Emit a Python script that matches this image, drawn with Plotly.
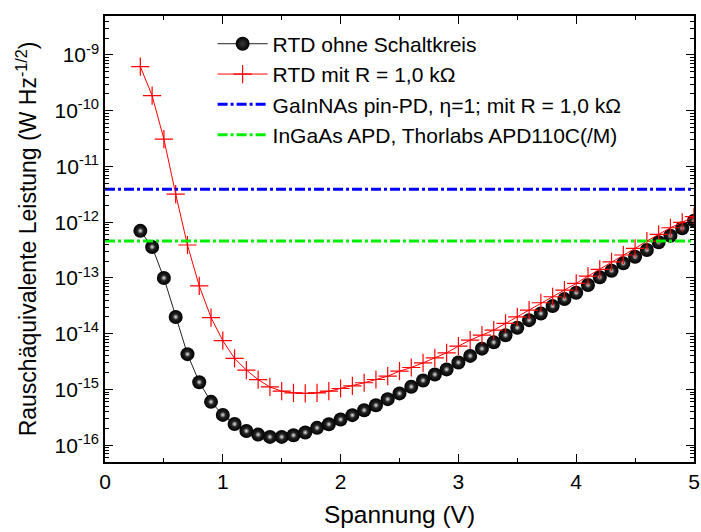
import math
import plotly.graph_objects as go

# Bias voltage (V)
voltage = [0.3, 0.4, 0.5, 0.6, 0.7, 0.8, 0.9, 1.0, 1.1, 1.2, 1.3, 1.4, 1.5, 1.6,
           1.7, 1.8, 1.9, 2.0, 2.1, 2.2, 2.3, 2.4, 2.5, 2.6, 2.7, 2.8, 2.9, 3.0,
           3.1, 3.2, 3.3, 3.4, 3.5, 3.6, 3.7, 3.8, 3.9, 4.0, 4.1, 4.2, 4.3, 4.4,
           4.5, 4.6, 4.7, 4.8, 4.9, 5.0]

# Noise equivalent power, RTD alone (W Hz^-1/2)
nep_rtd = [7.0e-13, 3.6e-13, 1.0e-13, 2.0e-14, 4.3e-15, 1.35e-15, 6.0e-16, 3.5e-16,
           2.4e-16, 1.8e-16, 1.55e-16, 1.41e-16, 1.41e-16, 1.51e-16, 1.69e-16, 2.05e-16,
           2.38e-16, 2.9e-16, 3.46e-16, 4.25e-16, 5.2e-16, 6.7e-16, 8.5e-16, 1.12e-15,
           1.45e-15, 1.86e-15, 2.29e-15, 3.05e-15, 4.0e-15, 5.4e-15, 7.0e-15, 9.4e-15,
           1.28e-14, 1.75e-14, 2.31e-14, 3.13e-14, 4.18e-14, 5.42e-14, 7.46e-14, 1.03e-13,
           1.35e-13, 1.83e-13, 2.4e-13, 3.17e-13, 4.36e-13, 5.72e-13, 7.78e-13, 1.06e-12]

# Noise equivalent power, RTD with R = 1.0 kOhm (W Hz^-1/2)
nep_rtd_r = [6.2e-10, 1.86e-10, 3.1e-11, 3.2e-12, 3.9e-13, 7.2e-14, 1.95e-14, 7.5e-15,
             3.6e-15, 2.23e-15, 1.5e-15, 1.11e-15, 9.3e-16, 8.7e-16, 8.5e-16, 8.7e-16,
             9.3e-16, 1.04e-15, 1.16e-15, 1.32e-15, 1.51e-15, 1.73e-15, 2.13e-15, 2.48e-15,
             3.0e-15, 3.7e-15, 4.54e-15, 5.99e-15, 7.67e-15, 9.44e-15, 1.16e-14, 1.53e-14,
             2.01e-14, 2.65e-14, 3.59e-14, 4.6e-14, 6.07e-14, 8.0e-14, 1.08e-13, 1.43e-13,
             1.95e-13, 2.58e-13, 3.4e-13, 4.59e-13, 6.06e-13, 7.96e-13, 9.95e-13, 1.26e-12]

# Reference detectors (constant NEP)
nep_pin_pd = 3.9e-12
nep_apd = 4.6e-13
ref_span = [0.0, 5.0]

# Axis settings
x_range = [0, 5]
y_min, y_max = 5e-17, 5e-9
decades = list(range(-16, -8))
y_tickvals = [10.0 ** k for k in decades]
y_ticktext = ["10<sup>%d</sup>" % k for k in decades]
y_minor = [m * 10.0 ** k for k in range(-17, -8) for m in range(2, 10)
           if y_min <= m * 10.0 ** k <= y_max]

FONT = "Arial, 'Liberation Sans', sans-serif"

fig = go.Figure()

fig.add_trace(go.Scatter(
    x=voltage, y=nep_rtd, mode="lines+markers",
    name="RTD ohne Schaltkreis",
    line=dict(color="#222222", width=1),
    marker=dict(size=14, color="#000000", line=dict(width=0),
                gradient=dict(type="radial", color="#3a3a3a")),
))
# glossy highlight on the spheres
fig.add_trace(go.Scatter(
    x=voltage, y=nep_rtd, mode="markers", showlegend=False, hoverinfo="skip",
    marker=dict(size=6, color="#202020", line=dict(width=0),
                gradient=dict(type="radial", color="#e8e8e8")),
))
fig.add_trace(go.Scatter(
    x=voltage, y=nep_rtd_r, mode="lines+markers",
    name="RTD mit R = 1,0 kΩ",
    line=dict(color="#ff0000", width=1),
    marker=dict(symbol="cross-thin", size=13, color="#ff0000",
                line=dict(width=1.2, color="#ff0000")),
))
fig.add_trace(go.Scatter(
    x=ref_span, y=[nep_pin_pd, nep_pin_pd], mode="lines",
    name="GaInNAs pin-PD, η=1; mit R = 1,0 kΩ",
    line=dict(color="#0000ff", width=3, dash="10px,3px,3px,3px"),
))
fig.add_trace(go.Scatter(
    x=ref_span, y=[nep_apd, nep_apd], mode="lines",
    name="InGaAs APD, Thorlabs APD110C(/M)",
    line=dict(color="#00ee00", width=3, dash="10px,3px,3px,3px"),
))

fig.update_layout(
    width=701, height=532,
    margin=dict(l=105, r=5, t=16, b=70),
    paper_bgcolor="white", plot_bgcolor="white",
    font=dict(family=FONT, size=20, color="black"),
    showlegend=True,
    legend=dict(
        x=0.1827, y=0.983, xanchor="left", yanchor="top",
        bgcolor="rgba(0,0,0,0)", borderwidth=0,
        font=dict(family=FONT, size=21, color="black"),
        itemwidth=50, tracegroupgap=0,
    ),
)

fig.update_xaxes(
    range=x_range, dtick=1, tick0=0, automargin=False,
    showline=True, linecolor="black", linewidth=1.5, mirror="ticks",
    ticks="inside", ticklen=8, tickwidth=1.2, tickcolor="black",
    minor=dict(dtick=0.5, tick0=0, ticks="inside", ticklen=4, tickwidth=1.2,
               tickcolor="black"),
    showgrid=False, zeroline=False,
    tickfont=dict(family=FONT, size=21),
    title=dict(text="Spannung (V)", font=dict(family=FONT, size=24.5), standoff=14),
)

fig.update_yaxes(
    type="log", range=[math.log10(y_min), math.log10(y_max)],
    tickmode="array", tickvals=y_tickvals, ticktext=y_ticktext,
    showline=True, linecolor="black", linewidth=1.5, mirror="ticks",
    ticks="inside", ticklen=8, tickwidth=1.2, tickcolor="black",
    minor=dict(tickmode="array", tickvals=y_minor, ticks="inside", ticklen=4,
               tickwidth=1, tickcolor="black"),
    showgrid=False, zeroline=False,
    tickfont=dict(family=FONT, size=21),
    title=dict(text="Rauschäquivalente Leistung (W Hz<sup>-1/2</sup>)",
               font=dict(family=FONT, size=23), standoff=11),
)

fig.write_html("out.html")
